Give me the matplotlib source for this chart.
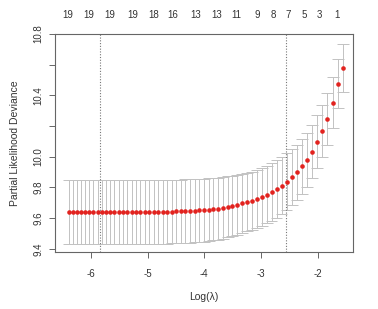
import matplotlib
matplotlib.use("Agg")
import matplotlib.pyplot as plt

plt.rcParams["font.family"] = ["Liberation Sans", "DejaVu Sans"]

# log(lambda) values of the cv path
log_lambda = [
    -6.390, -6.319, -6.247, -6.174, -6.102, -6.029, -5.956, -5.882, -5.808, -5.734,
    -5.659, -5.584, -5.508, -5.432, -5.356, -5.280, -5.203, -5.126, -5.048, -4.970,
    -4.892, -4.813, -4.734, -4.654, -4.575, -4.495, -4.414, -4.333, -4.252, -4.170,
    -4.088, -4.006, -3.923, -3.840, -3.757, -3.673, -3.589, -3.505, -3.420, -3.335,
    -3.249, -3.163, -3.077, -2.990, -2.903, -2.816, -2.728, -2.640, -2.552, -2.463,
    -2.374, -2.285, -2.195, -2.104, -2.014, -1.923, -1.832, -1.740, -1.648, -1.556,
]

# mean partial likelihood deviance
cvm = [
    9.638, 9.638, 9.638, 9.638, 9.638, 9.638, 9.638, 9.638, 9.638, 9.638,
    9.638, 9.638, 9.638, 9.638, 9.638, 9.638, 9.639, 9.639, 9.639, 9.639,
    9.640, 9.640, 9.641, 9.641, 9.642, 9.643, 9.644, 9.645, 9.646, 9.648,
    9.650, 9.652, 9.655, 9.658, 9.662, 9.667, 9.673, 9.680, 9.688, 9.696,
    9.704, 9.714, 9.725, 9.738, 9.753, 9.770, 9.790, 9.811, 9.837, 9.868,
    9.898, 9.937, 9.980, 10.034, 10.099, 10.166, 10.246, 10.353, 10.476, 10.577,
]

# standard error (half bar height)
cvsd = [
    0.208, 0.208, 0.208, 0.208, 0.208, 0.208, 0.208, 0.208, 0.208, 0.208,
    0.208, 0.208, 0.208, 0.208, 0.208, 0.208, 0.208, 0.208, 0.208, 0.208,
    0.208, 0.208, 0.208, 0.207, 0.207, 0.207, 0.207, 0.207, 0.206, 0.206,
    0.206, 0.205, 0.204, 0.203, 0.202, 0.201, 0.199, 0.197, 0.195, 0.193,
    0.191, 0.189, 0.187, 0.187, 0.187, 0.187, 0.187, 0.186, 0.184, 0.182,
    0.181, 0.179, 0.176, 0.174, 0.173, 0.171, 0.169, 0.166, 0.158, 0.157,
]

lambda_min = -5.84
lambda_1se = -2.56

# number of nonzero coefficients (top axis)
nz_pos = [-6.40, -6.03, -5.66, -5.27, -4.90, -4.55, -4.15, -3.79, -3.44,
          -3.07, -2.79, -2.53, -2.24, -1.98, -1.67]
nz_labels = ["19", "19", "19", "19", "18", "16", "13", "13", "11",
             "9", "8", "7", "5", "3", "1"]

y_ticks = [9.4, 9.6, 9.8, 10.0, 10.2, 10.4, 10.6, 10.8]
y_ticklabels = ["9.4", "9.6", "9.8", "10.0", "", "10.4", "", "10.8"]
x_ticks = [-6, -5, -4, -3, -2]

text_col = "#333333"
fig = plt.figure(figsize=(3.78, 3.09), dpi=100)
ax = fig.add_axes([0.146, 0.184, 0.788, 0.706])

xlim = (-6.629, -1.379)
cap = 0.02 * (xlim[1] - xlim[0])
upper = [m + s for m, s in zip(cvm, cvsd)]
lower = [m - s for m, s in zip(cvm, cvsd)]
bar_col = "#c2c2c2"
ax.vlines(log_lambda, lower, upper, color=bar_col, lw=0.7, zorder=1)
ax.hlines(upper, [x - cap for x in log_lambda], [x + cap for x in log_lambda],
          color=bar_col, lw=0.7, zorder=1)
ax.hlines(lower, [x - cap for x in log_lambda], [x + cap for x in log_lambda],
          color=bar_col, lw=0.7, zorder=1)
ax.plot(log_lambda, cvm, "o", color="#e2231f", markersize=3.3,
        markeredgewidth=0, zorder=3)

ax.axvline(lambda_min, color="#777777", ls=(0, (1, 1.5)), lw=0.8, zorder=2)
ax.axvline(lambda_1se, color="#777777", ls=(0, (1, 1.5)), lw=0.8, zorder=2)

ax.set_xlim(*xlim)
ax.set_ylim(9.378, 10.79)
ax.set_xticks(x_ticks)
ax.set_xticklabels([str(t) for t in x_ticks])
ax.set_yticks(y_ticks)
ax.set_yticklabels(y_ticklabels, rotation=90, va="center")
ax.tick_params(direction="out", length=4.3, width=0.7, colors="#666666",
               labelcolor=text_col, labelsize=7, pad=8)
ax.tick_params(axis="y", pad=4)
for s in ax.spines.values():
    s.set_color("#666666")
    s.set_linewidth(0.8)

top = ax.secondary_xaxis("top")
top.set_xticks(nz_pos)
top.set_xticklabels(nz_labels)
top.tick_params(length=0, pad=10, labelsize=7, labelcolor=text_col)
top.spines["top"].set_visible(False)

ax.set_xlabel("Log(\u03bb)", fontsize=7.5, color=text_col, labelpad=9)
ax.set_ylabel("Partial Likelihood Deviance", fontsize=7.5, color=text_col,
              labelpad=10)

fig.savefig("out.png", dpi=100, facecolor="white")
